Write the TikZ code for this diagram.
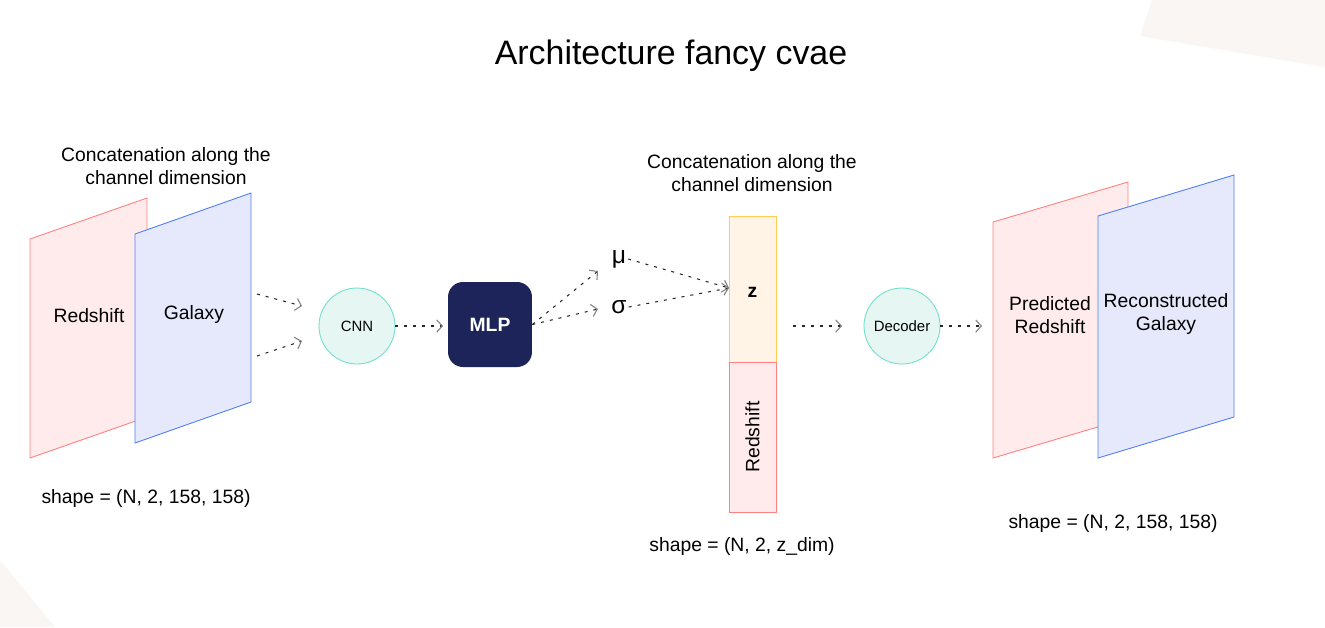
\documentclass[tikz,border=0pt]{standalone}
\usepackage{fontspec}
\setmainfont{Liberation Sans}
\usetikzlibrary{arrows.meta}

\definecolor{redfill}{HTML}{FFEBEB}
\definecolor{redline}{HTML}{FF8080}
\definecolor{bluefill}{HTML}{E6E9FC}
\definecolor{blueline}{HTML}{4D7EF5}
\definecolor{zfill}{HTML}{FFF4E6}
\definecolor{zline}{HTML}{FFCC55}
\definecolor{tealfill}{HTML}{E6F7F3}
\definecolor{tealline}{HTML}{70E0CC}
\definecolor{navy}{HTML}{1C2459}
\definecolor{bgshape}{HTML}{FAF6F3}

\begin{document}
\begin{tikzpicture}[x=0.02cm, y=-0.02cm,
    flow/.style={draw=black!85, line width=0.6pt, dash pattern=on 1.7pt off 3.4pt,
        -{Straight Barb[length=3.2pt,width=7pt,color=black!50]}},
    txt/.style={font=\fontsize{11}{13}\selectfont, align=center, inner sep=0pt},
    small/.style={font=\fontsize{8.5}{10}\selectfont},
    redplane/.style={fill=redfill, draw=redline, line width=0.5pt},
    blueplane/.style={fill=bluefill, draw=blueline, line width=0.5pt},
    block/.style={circle, fill=tealfill, draw=tealline, line width=0.5pt,
        minimum size=1.52cm, inner sep=0pt, small}]

    % Canvas and background corners
    \useasboundingbox (0,0) rectangle (1325,627);
    \fill[white] (0,0) rectangle (1325,627);
    \fill[bgshape] (1152,0) -- (1325,0) -- (1325,67) -- (1140,36) -- cycle;
    \fill[bgshape] (0,560) -- (55,627) -- (0,627) -- cycle;

    % Title
    \node (title) at (671,56) {\fontsize{19.3}{23}\selectfont Architecture fancy cvae};

    % Input planes
    \filldraw[redplane] (30,239) -- (147,198) -- (147,417) -- (30,458) -- cycle;
    \filldraw[blueplane] (135,234) -- (251,193) -- (251,402) -- (135,443) -- cycle;
    \node[txt] (inred) at (89,316) {Redshift};
    \node[txt] (ingal) at (194,314) {Galaxy};
    \node[txt] (inconcat) at (166,166) {Concatenation along the\\channel dimension};
    \node[txt] (inshape) at (146,498) {shape = (N, 2, 158, 158)};

    % Encoder
    \node[block] (cnn) at (357,326) {CNN};
    \node[fill=navy, rounded corners=0.3cm, minimum width=1.68cm, minimum height=1.7cm,
        text=white, font=\fontsize{11}{13}\selectfont\bfseries] (mlp) at (490,324.5) {MLP};
    \node[font=\fontsize{14}{16}\selectfont, inner sep=1pt] (mu) at (619,259) {μ};
    \node[font=\fontsize{14}{16}\selectfont, inner sep=1pt] (sigma) at (619,307) {σ};

    % Latent column
    \filldraw[fill=zfill, draw=zline, line width=0.5pt] (729,216) rectangle (776,362);
    \filldraw[fill=redfill, draw=redline, line width=0.5pt] (729,362) rectangle (776,512);
    \node[txt, font=\fontsize{11}{13}\selectfont\bfseries] (z) at (752.5,292) {z};
    \node[txt, rotate=90] (zred) at (752.5,437) {Redshift};
    \node[txt] (zconcat) at (752,173) {Concatenation along the\\channel dimension};
    \node[txt] (zshape) at (742,546) {shape = (N, 2, z\_dim)};

    % Decoder
    \node[block] (dec) at (902,326) {Decoder};

    % Output planes
    \filldraw[redplane] (993,222) -- (1128,182) -- (1128,418) -- (993,458) -- cycle;
    \filldraw[blueplane] (1098,216) -- (1234,175) -- (1234,417) -- (1098,458) -- cycle;
    \node[txt] (outred) at (1050,315) {Predicted\\Redshift};
    \node[txt] (outgal) at (1166,314) {Reconstructed\\Galaxy};
    \node[txt] (outshape) at (1113,523) {shape = (N, 2, 158, 158)};

    % Arrow ends
    \coordinate (gA) at (257,294);
    \coordinate (gB) at (257,356);
    \coordinate (cA) at (302,306);
    \coordinate (cB) at (302,341);
    \coordinate (mlpin) at (443,326);
    \coordinate (muin) at (598,271);
    \coordinate (sigin) at (598,309);
    \coordinate (zin) at (729,288);
    \coordinate (zout) at (793,326);
    \coordinate (decin) at (842,326);
    \coordinate (outin) at (982,326);

    % Connectors
    \draw[flow] (gA) -- (cA);
    \draw[flow] (gB) -- (cB);
    \draw[flow] (cnn.east) -- (mlpin);
    \draw[flow] (mlp.east) -- (muin);
    \draw[flow] (mlp.east) -- (sigin);
    \draw[flow] (mu.east) -- (zin);
    \draw[flow] (sigma.east) -- (zin);
    \draw[flow] (zout) -- (decin);
    \draw[flow] (dec.east) -- (outin);
\end{tikzpicture}
\end{document}
